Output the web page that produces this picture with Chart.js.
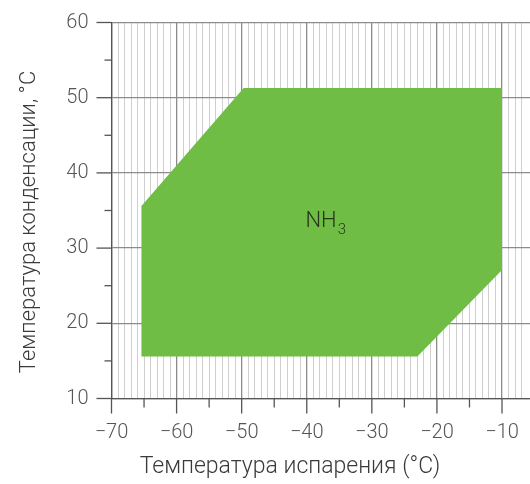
<!DOCTYPE html>
<html><head><meta charset="utf-8">
<script src="https://cdn.jsdelivr.net/npm/chart.js@4.4.1/dist/chart.umd.min.js"></script>
<style>html,body{margin:0;padding:0;background:#fff;overflow:hidden}</style>
</head><body>
<canvas id="c" width="530" height="484"></canvas>
<script>
const evapTemps = [-65.4, -65.4, -49.7, -10, -10, -23, -65.4];
const condTemps = [15.6, 35.6, 51.3, 51.3, 27.1, 15.6, 15.6];
const regionLabel = 'NH';
const regionSub = '3';
const xTitle = 'Температура испарения (°C)';
const yTitle = 'Температура конденсации, °C';
const labelAt = {x: -37.8, y: 33.6};

const pts = evapTemps.map((x, i) => ({x, y: condTemps[i]}));
const FONT = 'Roboto, "Liberation Sans", sans-serif';
const fmt = v => (v < 0 ? '\u2212' + Math.abs(v) : String(v));

const tickPlugin = {
  id: 'ticks',
  afterDraw(chart) {
    const {ctx, chartArea: a, scales: {x, y}} = chart;
    ctx.save();
    ctx.strokeStyle = '#555';
    ctx.lineWidth = 1.3;
    for (let v = -70; v <= x.max; v += 5) {
      const px = x.getPixelForValue(v);
      const len = (v % 10 === 0) ? 15 : 9;
      ctx.beginPath(); ctx.moveTo(px, a.bottom); ctx.lineTo(px, a.bottom + len); ctx.stroke();
    }
    for (let v = 10; v <= 60; v += 5) {
      const py = y.getPixelForValue(v);
      const len = (v % 10 === 0) ? 15 : 7;
      ctx.beginPath(); ctx.moveTo(a.left, py); ctx.lineTo(a.left - len, py); ctx.stroke();
    }
    // region label
    const lx = x.getPixelForValue(labelAt.x), ly = y.getPixelForValue(labelAt.y);
    ctx.fillStyle = '#26351c';
    ctx.font = '300 22px ' + FONT;
    ctx.textBaseline = 'middle';
    ctx.textAlign = 'left';
    const w = ctx.measureText(regionLabel).width;
    ctx.fillText(regionLabel, lx - w / 2, ly);
    ctx.font = '300 15px ' + FONT;
    ctx.fillText(regionSub, lx + w / 2 + 1, ly + 9);
    // axis titles
    ctx.fillStyle = '#3a3a3a';
    ctx.textAlign = 'center';
    ctx.font = '300 23px ' + FONT;
    ctx.fillText(xTitle, 290, 467);
    ctx.save();
    ctx.translate(29, 222);
    ctx.rotate(-Math.PI / 2);
    ctx.font = '300 22px ' + FONT;
    ctx.fillText(yTitle, 0, 0);
    ctx.restore();
    ctx.restore();
  }
};

new Chart(document.getElementById('c'), {
  type: 'scatter',
  data: {
    datasets: [{
      data: pts,
      showLine: true,
      fill: 'shape',
      backgroundColor: '#70bd45',
      borderColor: '#70bd45',
      borderWidth: 0,
      pointRadius: 0,
      tension: 0
    }]
  },
  options: {
    responsive: false,
    animation: false,
    layout: {padding: {left: 0, right: 0, top: 22.5, bottom: 0}},
    plugins: {legend: {display: false}, tooltip: {enabled: false}},
    scales: {
      x: {
        type: 'linear', min: -70, max: -5.7,
        afterFit(s) { s.height = 85.5; s.paddingLeft = 0; s.paddingRight = 0; },
        border: {color: '#555', width: 1.3},
        grid: {
          drawTicks: false,
          color: c => (c.tick && c.tick.value % 10 === 0) ? '#8c8c8c' : '#cfcfcf',
          lineWidth: c => (c.tick && c.tick.value % 10 === 0) ? 1.3 : 1
        },
        ticks: {
          stepSize: 1, autoSkip: false, maxRotation: 0, padding: 22,
          color: '#555', font: {family: FONT, size: 20, weight: 300},
          callback: v => (v % 10 === 0 ? fmt(v) : '')
        },
        title: {display: false}
      },
      y: {
        type: 'linear', min: 10, max: 60,
        afterFit(s) { s.width = 111.5; s.paddingTop = 0; s.paddingBottom = 0; },
        border: {color: '#555', width: 1.3},
        grid: {drawTicks: false, color: '#8c8c8c', lineWidth: 1.3},
        ticks: {
          stepSize: 10, padding: 23, color: '#555',
          font: {family: FONT, size: 20, weight: 300},
          callback: v => fmt(v)
        },
        title: {display: false}
      }
    }
  },
  plugins: [tickPlugin]
});
</script>
</body></html>
